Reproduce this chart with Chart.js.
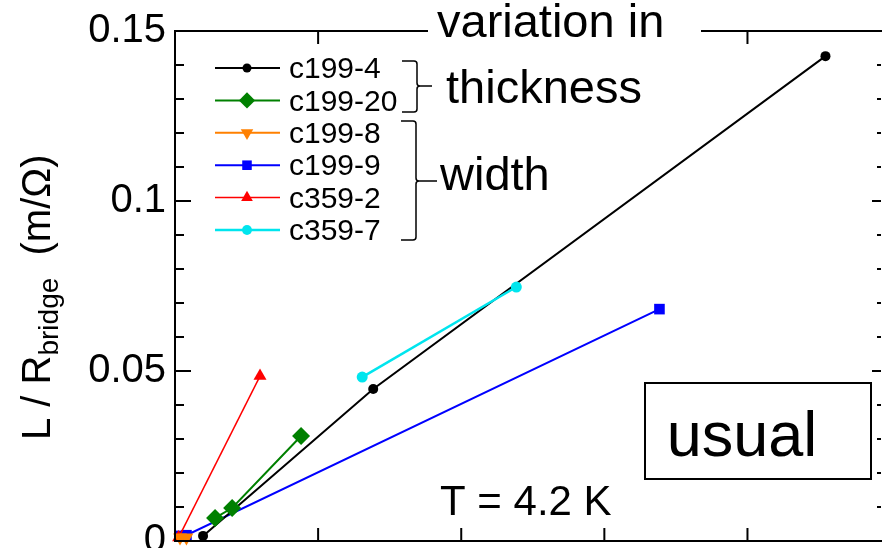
<!DOCTYPE html>
<html><head><meta charset="utf-8">
<script src="https://cdn.jsdelivr.net/npm/chart.js@4.4.0/dist/chart.umd.min.js"></script>
<style>html,body{margin:0;padding:0;background:#fff;overflow:hidden}#wrap{width:882px;height:548px;position:relative}</style>
</head><body><div id="wrap"><canvas id="c" width="882" height="548"></canvas></div>
<script>
// ---- data (x in units of major x-tick spacing; y in m/Ohm) ----
const seriesNames = ['c199-4', 'c199-20', 'c199-8', 'c199-9', 'c359-2', 'c359-7'];
const c199_4_x  = [0.196, 1.385, 4.545];
const c199_4_y  = [0.0015, 0.0447, 0.1426];
const c199_20_x = [0.28, 0.399, 0.881];
const c199_20_y = [0.0068, 0.0097, 0.0309];
const c199_8_x  = [0.035, 0.08];
const c199_8_y  = [0.001, 0.001];
const c199_9_x  = [0.03, 0.08, 3.385];
const c199_9_y  = [0.0015, 0.0017, 0.0682];
const c359_2_x  = [0.025, 0.594];
const c359_2_y  = [0.001, 0.0485];
const c359_7_x  = [1.308, 2.385];
const c359_7_y  = [0.0482, 0.0747];
const yTickValues = [0, 0.05, 0.1, 0.15];
const yTickLabels = ['0', '0.05', '0.1', '0.15'];
const xMin = 0, xMax = 4.94, yMin = 0, yMax = 0.15;
const groupLabels = ['variation in', 'thickness', 'width'];
const boxLabel = 'usual';
const tempLabel = 'T = 4.2 K';

const FONT = '"Liberation Sans", Arial, Helvetica, sans-serif';
const pts = (xs, ys) => xs.map((x, i) => ({x: x, y: ys[i]}));

const styles = [
  {color: '#000000', ps: 'circle',   r: 5,   rot: 0,   bw: 2,   order: 5},
  {color: '#008000', ps: 'rectRot',  r: 9,   rot: 0,   bw: 2,   order: 1},
  {color: '#ff8000', ps: 'triangle', r: 8,   rot: 180, bw: 2,   order: 0},
  {color: '#0000ff', ps: 'rect',     r: 7.5, rot: 0,   bw: 2,   order: 6},
  {color: '#ff0000', ps: 'triangle', r: 7.5, rot: 0,   bw: 1.5, order: 4},
  {color: '#00e5ee', ps: 'circle',   r: 5.5, rot: 0,   bw: 2.5, order: 2}
];
const seriesData = [
  pts(c199_4_x, c199_4_y), pts(c199_20_x, c199_20_y), pts(c199_8_x, c199_8_y),
  pts(c199_9_x, c199_9_y), pts(c359_2_x, c359_2_y), pts(c359_7_x, c359_7_y)
];
const datasets = seriesNames.map((n, i) => ({
  label: n, data: seriesData[i], showLine: true, tension: 0,
  borderColor: styles[i].color, backgroundColor: styles[i].color,
  borderWidth: styles[i].bw, pointStyle: styles[i].ps, pointRadius: styles[i].r,
  pointRotation: styles[i].rot, pointBorderWidth: 0, order: styles[i].order, clip: false
}));

function drawMarker(ctx, st, x, y, scale) {
  const r = st.r * scale;
  ctx.save();
  ctx.fillStyle = st.color; ctx.strokeStyle = st.color; ctx.lineWidth = 0.01;
  if (Chart.helpers && Chart.helpers.drawPoint) {
    Chart.helpers.drawPoint(ctx, {pointStyle: st.ps, radius: r, rotation: st.rot, borderWidth: 0}, x, y);
  } else {
    ctx.beginPath(); ctx.arc(x, y, r, 0, 2 * Math.PI); ctx.fill();
  }
  ctx.restore();
}

const annot = {
  id: 'annot',
  afterDraw(chart) {
    const ctx = chart.ctx, ca = chart.chartArea, xs = chart.scales.x, ys = chart.scales.y;
    ctx.save();
    ctx.strokeStyle = '#000'; ctx.lineWidth = 2; ctx.lineCap = 'butt';
    const L = (x1, y1, x2, y2) => { ctx.beginPath(); ctx.moveTo(x1, y1); ctx.lineTo(x2, y2); ctx.stroke(); };
    // frame
    L(ca.left, ca.top, ca.left, ca.bottom + 1);
    L(ca.left - 1, ca.bottom, ca.right, ca.bottom);
    L(ca.left - 1, ca.top, ca.right, ca.top);
    // y ticks (inward), minor every 0.01
    for (let i = 0; i <= 15; i++) {
      const v = i / 100, py = ys.getPixelForValue(v);
      const major = i % 5 === 0;
      L(ca.left, py, ca.left + (major ? 16 : 9), py);
      L(ca.right - 1, py, ca.right - 1 - (major ? 9 : 4), py);
    }
    // x ticks
    for (let i = 1; i <= Math.floor(xMax); i++) {
      const px = xs.getPixelForValue(i);
      L(px, ca.bottom, px, ca.bottom - 13);
      L(px, ca.top, px, ca.top + 13);
    }
    // white box behind top label
    ctx.fillStyle = '#fff';
    ctx.fillRect(428, 0, 273, 46);
    ctx.fillStyle = '#000';
    ctx.textBaseline = 'alphabetic'; ctx.textAlign = 'left';
    ctx.font = '47px ' + FONT;
    ctx.fillText(groupLabels[0], 437, 37);
    ctx.fillText(groupLabels[1], 446, 103);
    ctx.fillText(groupLabels[2], 440, 190);
    ctx.font = '42px ' + FONT;
    ctx.fillText(tempLabel, 440, 515);
    // usual box
    ctx.lineWidth = 2;
    ctx.strokeRect(645, 383, 226, 96);
    ctx.font = '63px ' + FONT;
    ctx.textAlign = 'center';
    ctx.fillText(boxLabel, 742, 456);
    // braces
    ctx.lineWidth = 1.5;
    const brace = (x, y1, y2, ym, tipX, left) => {
      ctx.beginPath();
      ctx.moveTo(left, y1); ctx.lineTo(x - 3, y1); ctx.quadraticCurveTo(x, y1, x, y1 + 3);
      ctx.lineTo(x, ym - 3); ctx.quadraticCurveTo(x, ym, x + 3, ym); ctx.lineTo(tipX, ym);
      ctx.moveTo(x + 3, ym); ctx.quadraticCurveTo(x, ym, x, ym + 3);
      ctx.lineTo(x, y2 - 3); ctx.quadraticCurveTo(x, y2, x - 3, y2); ctx.lineTo(left, y2);
      ctx.stroke();
    };
    brace(417, 61, 112, 86, 432, 402);
    brace(416, 121, 240, 181, 437, 401);
    // legend
    ctx.textAlign = 'left'; ctx.textBaseline = 'middle';
    ctx.font = '30px ' + FONT;
    seriesNames.forEach((n, i) => {
      const y = 68 + i * 32.4, st = styles[i];
      ctx.strokeStyle = st.color; ctx.lineWidth = st.bw;
      L(215, y, 280, y);
      drawMarker(ctx, st, 247, y, 0.9);
      ctx.fillStyle = '#000';
      ctx.fillText(n, 289, y + 2);
    });
    // y axis title
    ctx.save();
    ctx.translate(50, 440); ctx.rotate(-Math.PI / 2);
    ctx.textBaseline = 'alphabetic'; ctx.textAlign = 'left'; ctx.fillStyle = '#000';
    ctx.font = '40px ' + FONT;
    let tx = 0;
    ctx.fillText('L / R', tx, 0); tx += ctx.measureText('L / R').width;
    ctx.font = '28px ' + FONT;
    ctx.fillText('bridge', tx, 8); tx += ctx.measureText('bridge').width;
    ctx.font = '40px ' + FONT;
    ctx.fillText('  (m/\u03A9)', tx, 0);
    ctx.restore();
    ctx.restore();
  }
};

function zeroPad(s) { s.paddingTop = 0; s.paddingBottom = 0; s.paddingLeft = 0; s.paddingRight = 0; }

new Chart(document.getElementById('c').getContext('2d'), {
  type: 'scatter',
  data: {datasets: datasets},
  options: {
    responsive: false, animation: false, devicePixelRatio: 1,
    layout: {autoPadding: false, padding: {left: 0, right: 0, top: 31, bottom: 0}},
    plugins: {legend: {display: false}, tooltip: {enabled: false}},
    scales: {
      x: {type: 'linear', min: xMin, max: xMax,
          ticks: {display: false, stepSize: 1},
          grid: {display: false, drawTicks: false}, border: {display: false},
          afterFit(s) { s.height = 7; zeroPad(s); }},
      y: {type: 'linear', min: yMin, max: yMax,
          afterBuildTicks(s) { s.ticks = yTickValues.map(v => ({value: v})); },
          ticks: {color: '#000', padding: 9, font: {family: FONT, size: 40},
                  callback: (v) => yTickLabels[yTickValues.findIndex(t => Math.abs(t - v) < 1e-9)]},
          grid: {display: false, drawTicks: false}, border: {display: false},
          afterFit(s) { s.width = 175; zeroPad(s); }}
    }
  },
  plugins: [annot]
});
</script></body></html>
